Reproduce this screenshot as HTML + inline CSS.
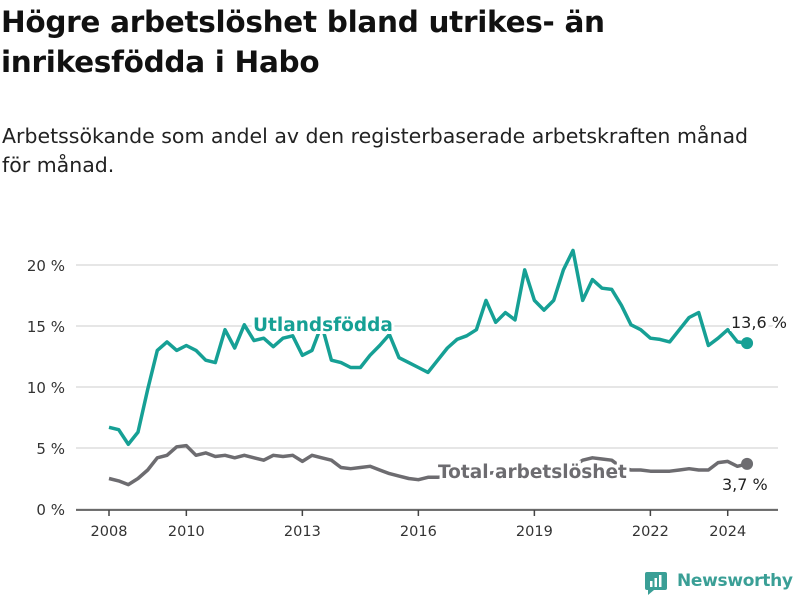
<!DOCTYPE html>
<html><head><meta charset="utf-8">
<style>
body{margin:0;background:#fff;font-family:"DejaVu Sans","Liberation Sans",sans-serif;}
#wrap{position:relative;width:800px;height:600px;overflow:hidden;}
h1{position:absolute;left:1px;top:2px;margin:0;font-size:29.5px;line-height:40px;font-weight:bold;color:#111;width:795px;letter-spacing:-0.3px;}
.sub{position:absolute;left:2px;top:122px;font-size:20.5px;line-height:29px;color:#222;white-space:nowrap;}
svg{position:absolute;left:0;top:0;}
</style></head><body>
<div id="wrap">
<h1>Högre arbetslöshet bland utrikes- än<br>inrikesfödda i Habo</h1>
<div class="sub">Arbetssökande som andel av den registerbaserade arbetskraften månad<br>för månad.</div>
<svg id="chart" width="800" height="600"></svg>
<div style="position:absolute;left:645px;top:570px;width:155px;height:26px;">
<svg width="24" height="26" style="position:absolute;left:0;top:0"><rect x="0" y="2" width="22" height="18" rx="2" fill="#3a9f96"/><polygon points="3,20 9,20 3,25" fill="#3a9f96"/><rect x="5" y="11" width="2.5" height="6" fill="#fff"/><rect x="9.5" y="8" width="2.5" height="9" fill="#fff"/><rect x="14" y="5" width="2.5" height="12" fill="#fff"/></svg>
<span style="position:absolute;left:32px;top:1px;font-size:17px;color:#3a9f96;font-weight:bold;letter-spacing:-0.3px;">Newsworthy</span>
</div>
</div>
<script>
const tickYears=[2008,2010,2013,2016,2019,2022,2024];
const yTicks=[0,5,10,15,20];
const startYear=2008;
const foreign=[6.7,6.5,5.3,6.3,9.8,13.0,13.7,13.0,13.4,13.0,12.2,12.0,14.7,13.2,15.1,13.8,14.0,13.3,14.0,14.2,12.6,13.0,15.1,12.2,12.0,11.6,11.6,12.6,13.4,14.3,12.4,12.0,11.6,11.2,12.2,13.2,13.9,14.2,14.7,17.1,15.3,16.1,15.5,19.6,17.1,16.3,17.1,19.6,21.2,17.1,18.8,18.1,18.0,16.7,15.1,14.7,14.0,13.9,13.7,14.7,15.7,16.1,13.4,14.0,14.7,13.7,13.6];
const total=[2.5,2.3,2.0,2.5,3.2,4.2,4.4,5.1,5.2,4.4,4.6,4.3,4.4,4.2,4.4,4.2,4.0,4.4,4.3,4.4,3.9,4.4,4.2,4.0,3.4,3.3,3.4,3.5,3.2,2.9,2.7,2.5,2.4,2.6,2.6,2.7,2.8,2.8,2.9,2.9,3.0,3.1,3.2,3.2,3.3,3.3,3.4,3.4,3.5,4.0,4.2,4.1,4.0,3.4,3.2,3.2,3.1,3.1,3.1,3.2,3.3,3.2,3.2,3.8,3.9,3.5,3.7];
const NS="http://www.w3.org/2000/svg";
const svg=document.getElementById('chart');
const FONT='DejaVu Sans, Liberation Sans, sans-serif';
const X=y=>109+(y-2008)*38.67;
const Y=v=>509-v*12.2;
function el(t,a){const e=document.createElementNS(NS,t);for(const k in a)e.setAttribute(k,a[k]);svg.appendChild(e);return e;}
yTicks.forEach(v=>{
 const g=el('line',{x1:76,x2:778,y1:Y(v),y2:Y(v),stroke:'#ddd','stroke-width':1.5});
 
 
 const t=el('text',{x:65,y:Y(v)+6,'text-anchor':'end','font-size':15,fill:'#333','font-family':FONT});
 t.textContent=v+' %';
 
 
});
const ax=el('line',{x1:76,x2:778,y1:Y(0)+1,y2:Y(0)+1,stroke:'#444','stroke-width':1.5});


tickYears.forEach(yr=>{
 const l=el('line',{x1:X(yr),x2:X(yr),y1:Y(0)+1,y2:Y(0)+7,stroke:'#444','stroke-width':1.5});
 
 
 const t=el('text',{x:X(yr),y:Y(0)+27,'text-anchor':'middle','font-size':14.5,fill:'#333','font-family':FONT});
 t.textContent=yr;
 
 
});
function line(data,color,name){
 const d=data.map((v,i)=>(i?'L':'M')+X(startYear+i*0.25).toFixed(1)+','+Y(v).toFixed(1)).join('');
 const p=el('path',{d:d,fill:'none',stroke:color,'stroke-width':3.5,'stroke-linejoin':'round'});
 
 
 const n=data.length-1;
 const c=el('circle',{cx:X(startYear+n*0.25),cy:Y(data[n]),r:6,fill:color});
 
 
}
line(total,'#6d6c70','total-line');
line(foreign,'#16a095','foreign-line');
function label(txt,x,y,color,name,size,weight,halo){
 const t=el('text',{x:x,y:y,'font-size':size,fill:color,'font-weight':weight,'font-family':FONT});
 if(halo){t.setAttribute('stroke','#fff');t.setAttribute('stroke-width',6);t.setAttribute('paint-order','stroke');}
 t.textContent=txt;
 
 
}
label('Utlandsfödda',253,331,'#16a095','foreign-series-label',18.5,'bold',true);
label('Total arbetslöshet',438,478,'#6d6c70','total-series-label',18.5,'bold',true);
label('13,6 %',731,328,'#222','foreign-end-value',16,'normal',true);
label('3,7 %',722,490,'#222','total-end-value',16,'normal',true);
</script>
</body></html>
